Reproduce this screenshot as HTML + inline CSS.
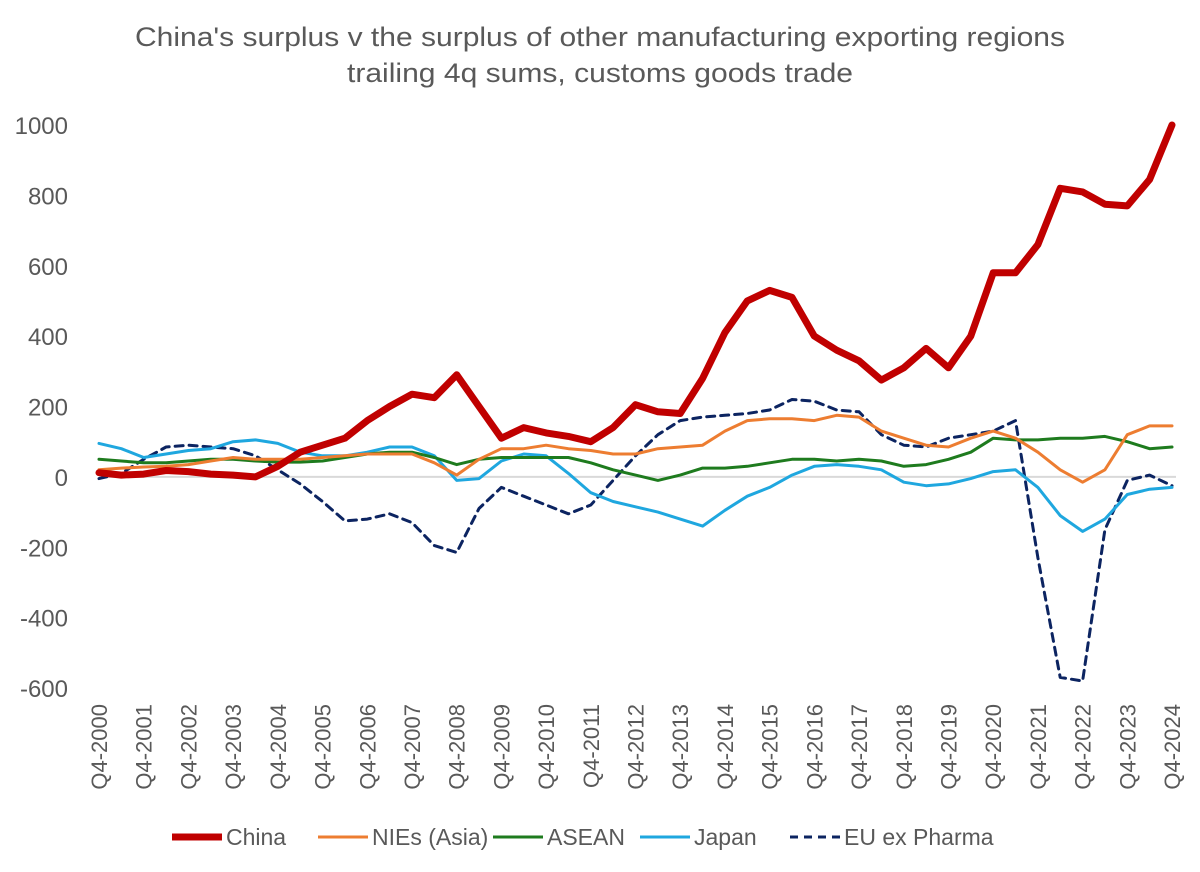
<!DOCTYPE html>
<html><head><meta charset="utf-8"><style>
body{margin:0;background:#fff;}
svg{display:block;font-family:"Liberation Sans",sans-serif;}
</style></head><body>
<svg id="chart" width="1200" height="872">
<text x="135" y="46" textLength="930" lengthAdjust="spacingAndGlyphs" font-size="27" fill="#595959">China's surplus v the surplus of other manufacturing exporting regions</text>
<text x="347" y="82" textLength="506" lengthAdjust="spacingAndGlyphs" font-size="27" fill="#595959">trailing 4q sums, customs goods trade</text>
<g id="yaxis"></g>
<g id="xaxis"></g>
<g id="series"></g>
<g id="legend"></g>
</svg>
<script>
const years = [2000,2001,2002,2003,2004,2005,2006,2007,2008,2009,2010,2011,2012,2013,2014,2015,2016,2017,2018,2019,2020,2021,2022,2023,2024];
const yTicks = [1000,800,600,400,200,0,-200,-400,-600];
// semi-annual points: Q4-2000, Q2-2001, Q4-2001, ... Q4-2024
const china = [12,5,8,18,15,8,5,0,30,70,90,110,160,200,235,225,290,200,110,140,125,115,100,140,205,185,180,280,410,500,530,510,400,360,330,275,310,365,310,400,580,580,660,820,810,775,770,845,1000];
const nies = [20,25,28,30,35,45,55,50,50,50,55,60,65,65,65,40,5,50,80,80,90,80,75,65,65,80,85,90,130,160,165,165,160,175,170,130,110,90,85,110,130,110,70,20,-15,20,120,145,145];
const asean = [50,45,40,40,45,50,50,45,42,42,45,55,65,70,70,55,35,50,55,55,55,55,40,20,5,-10,5,25,25,30,40,50,50,45,50,45,30,35,50,70,110,105,105,110,110,115,100,80,85];
const japan = [95,80,55,65,75,80,100,105,95,70,60,60,70,85,85,60,-10,-5,45,65,60,10,-45,-70,-85,-100,-120,-140,-95,-55,-30,5,30,35,30,20,-15,-25,-20,-5,15,20,-30,-110,-155,-120,-50,-35,-30];
const eu = [-5,10,50,85,90,85,80,60,20,-20,-70,-125,-120,-105,-130,-195,-215,-90,-30,-55,-80,-105,-80,-10,60,120,160,170,175,180,190,220,215,190,185,120,90,85,110,120,130,160,-230,-570,-580,-150,-10,5,-25];

const NS='http://www.w3.org/2000/svg';
const x0=99,x1=1172,yTop=125,yBot=688,vMax=1000,vMin=-600;
const xs=i=>x0+(x1-x0)*i/(china.length-1);
const ys=v=>yTop+(vMax-v)/(vMax-vMin)*(yBot-yTop);
function mk(t,a,p){const e=document.createElementNS(NS,t);for(const k in a)e.setAttribute(k,a[k]);p.appendChild(e);return e;}
const ya=document.getElementById('yaxis');
yTicks.forEach(v=>{
  const t=mk('text',{x:68,y:ys(v)+9,'text-anchor':'end','font-size':24,fill:'#595959'},ya);
  t.textContent=v;
  
  
});
const zl=mk('line',{x1:x0,x2:1176,y1:ys(0),y2:ys(0),stroke:'#d9d9d9','stroke-width':2},ya);


const xa=document.getElementById('xaxis');
years.forEach((y,i)=>{
  const x=x0+(x1-x0)*i/(years.length-1);
  const t=mk('text',{x:0,y:0,'text-anchor':'end','font-size':22,fill:'#595959',transform:`translate(${x+8},704) rotate(-90)`},xa);
  t.textContent='Q4-'+y;
  
  
});
const defs=[
 {d:china,c:'#c00000',w:7,dash:null,n:'China',name:'china-line'},
 {d:nies,c:'#ed7d31',w:3,dash:null,n:'NIEs (Asia)',name:'nies-line'},
 {d:asean,c:'#1e7b1e',w:3,dash:null,n:'ASEAN',name:'asean-line'},
 {d:japan,c:'#1fa7df',w:3,dash:null,n:'Japan',name:'japan-line'},
 {d:eu,c:'#0c2461',w:3,dash:'8,6',n:'EU ex Pharma',name:'eu-ex-pharma-line'}];
const sg=document.getElementById('series');
[4,3,2,1,0].forEach(k=>{
  const s=defs[k];
  const pts=s.d.map((v,i)=>xs(i).toFixed(1)+','+ys(v).toFixed(1)).join(' ');
  const a={points:pts,fill:'none',stroke:s.c,'stroke-width':s.w,'stroke-linejoin':'round','stroke-linecap':'round'};
  if(s.dash)a['stroke-dasharray']=s.dash;
  const p=mk('polyline',a,sg);
  
  
});
const lg=document.getElementById('legend');
const lx=[172,318,493,640,790];
defs.forEach((s,i)=>{
  const a={x1:lx[i],x2:lx[i]+50,y1:837,y2:837,stroke:s.c,'stroke-width':s.w};
  if(s.dash)a['stroke-dasharray']=s.dash;
  const l=mk('line',a,lg);
  
  
  const t=mk('text',{x:lx[i]+54,y:845,'font-size':23,fill:'#595959'},lg);
  t.textContent=s.n;
  
  
});
</script>
</body></html>
